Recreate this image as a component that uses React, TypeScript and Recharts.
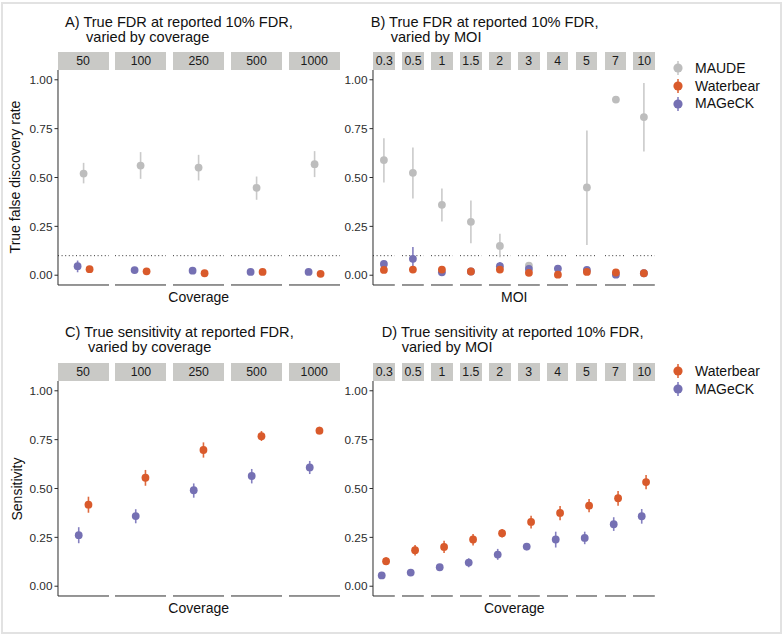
import React from "react";
import { ErrorBar, ReferenceLine, Scatter, ScatterChart, XAxis, YAxis } from "recharts";

// [estimate, lower, upper]; null = no estimate
type Est = [number, number, number] | null;

const coverage = ["50", "100", "250", "500", "1000"];
const moi = ["0.3", "0.5", "1", "1.5", "2", "3", "4", "5", "7", "10"];
const yTicks = [0, 0.25, 0.5, 0.75, 1];

const fdrCovMaude: Est[] = [[0.52, 0.47, 0.575], [0.561, 0.493, 0.63], [0.551, 0.485, 0.616], [0.447, 0.386, 0.505], [0.568, 0.502, 0.635]];
const fdrCovWaterbear: Est[] = [[0.031, 0.024, 0.038], [0.02, 0.015, 0.025], [0.01, 0.006, 0.014], [0.017, 0.012, 0.022], [0.007, 0.004, 0.01]];
const fdrCovMageck: Est[] = [[0.046, 0.015, 0.075], [0.026, 0.02, 0.032], [0.023, 0.018, 0.028], [0.017, 0.013, 0.021], [0.017, 0.013, 0.021]];

const fdrMoiMaude: Est[] = [[0.589, 0.474, 0.701], [0.524, 0.392, 0.654], [0.36, 0.275, 0.444], [0.273, 0.164, 0.382], [0.15, 0.092, 0.212], [0.049, 0.032, 0.066], null, [0.449, 0.155, 0.741], [0.899, 0.899, 0.899], [0.809, 0.633, 0.983]];
const fdrMoiWaterbear: Est[] = [[0.027, 0.02, 0.034], [0.029, 0.018, 0.04], [0.029, 0.02, 0.038], [0.019, 0.013, 0.025], [0.029, 0.02, 0.038], [0.012, 0.006, 0.018], [0.003, 0, 0.006], [0.017, 0.01, 0.024], [0.014, 0.008, 0.02], [0.01, 0.005, 0.015]];
const fdrMoiMageck: Est[] = [[0.058, 0.045, 0.072], [0.084, 0.04, 0.145], [0.015, 0.01, 0.02], [0.019, 0.014, 0.024], [0.046, 0.025, 0.068], [0.032, 0.025, 0.04], [0.034, 0.026, 0.042], [0.027, 0.02, 0.034], [0.003, 0, 0.006], [0.01, 0.006, 0.014]];

const sensCovWaterbear: Est[] = [[0.417, 0.376, 0.458], [0.555, 0.514, 0.595], [0.697, 0.658, 0.736], [0.768, 0.743, 0.794], [0.796, 0.777, 0.816]];
const sensCovMageck: Est[] = [[0.261, 0.22, 0.302], [0.359, 0.322, 0.394], [0.491, 0.453, 0.526], [0.564, 0.526, 0.6], [0.608, 0.574, 0.641]];

const sensMoiWaterbear: Est[] = [[0.128, 0.107, 0.148], [0.184, 0.157, 0.211], [0.201, 0.17, 0.232], [0.239, 0.208, 0.267], [0.271, 0.249, 0.293], [0.329, 0.295, 0.361], [0.375, 0.337, 0.41], [0.412, 0.378, 0.446], [0.45, 0.412, 0.487], [0.533, 0.496, 0.569]];
const sensMoiMageck: Est[] = [[0.055, 0.041, 0.066], [0.07, 0.056, 0.084], [0.097, 0.083, 0.111], [0.121, 0.097, 0.143], [0.162, 0.135, 0.191], [0.203, 0.184, 0.22], [0.239, 0.198, 0.279], [0.247, 0.215, 0.279], [0.317, 0.283, 0.353], [0.358, 0.32, 0.395]];

const MAUDE = { name: "MAUDE", color: "#bdbdbd", bar: "#cacaca" };
const WATERBEAR = { name: "Waterbear", color: "#d95a2b", bar: "#de6a3e" };
const MAGECK = { name: "MAGeCK", color: "#7570b3", bar: "#8580c0" };

const FONT = "'Liberation Sans', Arial, Helvetica, sans-serif";
const AXIS = "#2b2b2b";
const STRIP = "#c9c9c6";

type Series = { name: string; color: string; bar: string; values: Est[]; dodge: number };

function rowsFor(s: Series, i: number) {
  const v = s.values[i];
  if (!v) return [];
  return [{ x: 0.5 + s.dodge, y: v[0], err: [v[0] - v[1], v[2] - v[0]] }];
}

function Facet({ idx, first, width, height, yw, series, dotted }: {
  idx: number; first: boolean; width: number; height: number; yw: number; series: Series[]; dotted: boolean;
}) {
  return (
    <ScatterChart width={width + (first ? yw : 0)} height={height + 1} margin={{ top: 0, right: 0, bottom: 0, left: 0 }}>
      <XAxis type="number" dataKey="x" domain={[0, 1]} tick={false} tickLine={false} height={1} axisLine={{ stroke: AXIS, strokeWidth: 1 }} />
      <YAxis
        type="number"
        dataKey="y"
        domain={[-0.05, 1.05]}
        ticks={yTicks}
        hide={!first}
        width={yw}
        tickSize={3.5}
        tickMargin={2}
        tickFormatter={(v: number) => v.toFixed(2)}
        tick={{ fontSize: 11.8, fill: AXIS, fontFamily: FONT }}
        tickLine={{ stroke: AXIS }}
        axisLine={{ stroke: AXIS, strokeWidth: 1 }}
        interval={0}
      />
      {dotted && <ReferenceLine y={0.1} stroke="#333" strokeWidth={1} strokeDasharray="1 2.6" />}
      {series.map((s) => (
        <Scatter
          key={s.name}
          data={rowsFor(s, idx)}
          fill={s.color}
          isAnimationActive={false}
          shape={(p: any) => <circle cx={p.cx} cy={p.cy} r={3.9} fill={s.color} />}
        >
          <ErrorBar dataKey="err" direction="y" width={0} stroke={s.bar} strokeWidth={1.6} isAnimationActive={false} />
        </Scatter>
      ))}
    </ScatterChart>
  );
}

function Panel(props: {
  title: [string, string]; titleX: number; titleIndent: number; titleY: number;
  facets: string[]; x0: number; facetW: number; gap: number; plotTop: number; plotH: number;
  series: Series[]; dotted: boolean; yLabel?: string; yLabelX?: number; xLabel: string;
}) {
  const { title, titleX, titleIndent, titleY, facets, x0, facetW, gap, plotTop, plotH, series, dotted, yLabel, yLabelX, xLabel } = props;
  const yw = 38;
  const total = facets.length * facetW + (facets.length - 1) * gap;
  return (
    <>
      <div style={{ position: "absolute", left: titleX, top: titleY, fontSize: 14.6, lineHeight: "14.5px", color: "#111", whiteSpace: "nowrap" }}>
        <div>{title[0]}</div>
        <div style={{ paddingLeft: titleIndent }}>{title[1]}</div>
      </div>
      {facets.map((f, i) => {
        const left = x0 + i * (facetW + gap);
        return (
          <React.Fragment key={f}>
            <div style={{ position: "absolute", left, top: plotTop - 18, width: facetW, height: 18, background: STRIP, fontSize: 12.3, lineHeight: "18px", textAlign: "center", color: "#1a1a1a" }}>
              {f}
            </div>
            <div style={{ position: "absolute", left: left - (i === 0 ? yw : 0), top: plotTop }}>
              <Facet idx={i} first={i === 0} width={facetW} height={plotH} yw={yw} series={series} dotted={dotted} />
            </div>
          </React.Fragment>
        );
      })}
      <div style={{ position: "absolute", left: x0, width: total, top: plotTop + plotH + 4, textAlign: "center", fontSize: 14, color: "#111" }}>
        {xLabel}
      </div>
      {yLabel && (
        <div style={{ position: "absolute", left: (yLabelX ?? 15) - 100, width: 200, top: plotTop + plotH / 2 - 9, height: 18, textAlign: "center", fontSize: 14, lineHeight: "18px", color: "#111", transform: "rotate(-90deg)" }}>
          {yLabel}
        </div>
      )}
    </>
  );
}

function Legend({ items, left, top }: { items: { name: string; color: string; bar: string }[]; left: number; top: number }) {
  return (
    <div style={{ position: "absolute", left, top }}>
      {items.map((it) => (
        <div key={it.name} style={{ display: "flex", alignItems: "center", height: 17.8 }}>
          <svg width={18} height={18}>
            <line x1={9} x2={9} y1={2} y2={16} stroke={it.bar} strokeWidth={1.6} />
            <circle cx={9} cy={9} r={4.6} fill={it.color} />
          </svg>
          <span style={{ marginLeft: 8, fontSize: 14, color: "#111" }}>{it.name}</span>
        </div>
      ))}
    </div>
  );
}

export default function App() {
  const covGeom = { x0: 57.5, facetW: 51.2, gap: 6.6 };
  const moiGeom = { x0: 373.3, facetW: 21.8, gap: 7.1 };
  return (
    <div style={{ position: "absolute", left: 0, top: 0, width: 782, height: 634, background: "#fff", fontFamily: FONT, overflow: "hidden" }}>
      <div style={{ position: "absolute", left: 1, top: 2, width: 777, height: 628, border: "2px solid #e2e2e2" }} />
      <Panel
        title={["A) True FDR at reported 10% FDR,", "varied by coverage"]}
        titleX={65} titleIndent={21} titleY={15}
        facets={coverage} {...covGeom} plotTop={69.5} plotH={215}
        series={[
          { ...MAGECK, values: fdrCovMageck, dodge: -0.117 },
          { ...MAUDE, values: fdrCovMaude, dodge: 0 },
          { ...WATERBEAR, values: fdrCovWaterbear, dodge: 0.117 },
        ]}
        dotted yLabel="True false discovery rate" yLabelX={15} xLabel="Coverage"
      />
      <Panel
        title={["B) True FDR at reported 10% FDR,", "varied by MOI"]}
        titleX={370.7} titleIndent={20} titleY={15}
        facets={moi} {...moiGeom} plotTop={69.5} plotH={215}
        series={[
          { ...MAUDE, values: fdrMoiMaude, dodge: 0 },
          { ...MAGECK, values: fdrMoiMageck, dodge: 0 },
          { ...WATERBEAR, values: fdrMoiWaterbear, dodge: 0 },
        ]}
        dotted xLabel="MOI"
      />
      <Legend items={[MAUDE, WATERBEAR, MAGECK]} left={669} top={59} />
      <Panel
        title={["C) True sensitivity at reported FDR,", "varied by coverage"]}
        titleX={65} titleIndent={23} titleY={325}
        facets={coverage} {...covGeom} plotTop={381} plotH={215}
        series={[
          { ...MAGECK, values: sensCovMageck, dodge: -0.095 },
          { ...WATERBEAR, values: sensCovWaterbear, dodge: 0.095 },
        ]}
        dotted={false} yLabel="Sensitivity" yLabelX={17} xLabel="Coverage"
      />
      <Panel
        title={["D) True sensitivity at reported 10% FDR,", "varied by MOI"]}
        titleX={381.7} titleIndent={20} titleY={325}
        facets={moi} {...moiGeom} plotTop={381} plotH={215}
        series={[
          { ...MAGECK, values: sensMoiMageck, dodge: -0.1 },
          { ...WATERBEAR, values: sensMoiWaterbear, dodge: 0.1 },
        ]}
        dotted={false} xLabel="Coverage"
      />
      <Legend items={[WATERBEAR, MAGECK]} left={669} top={362} />
    </div>
  );
}
